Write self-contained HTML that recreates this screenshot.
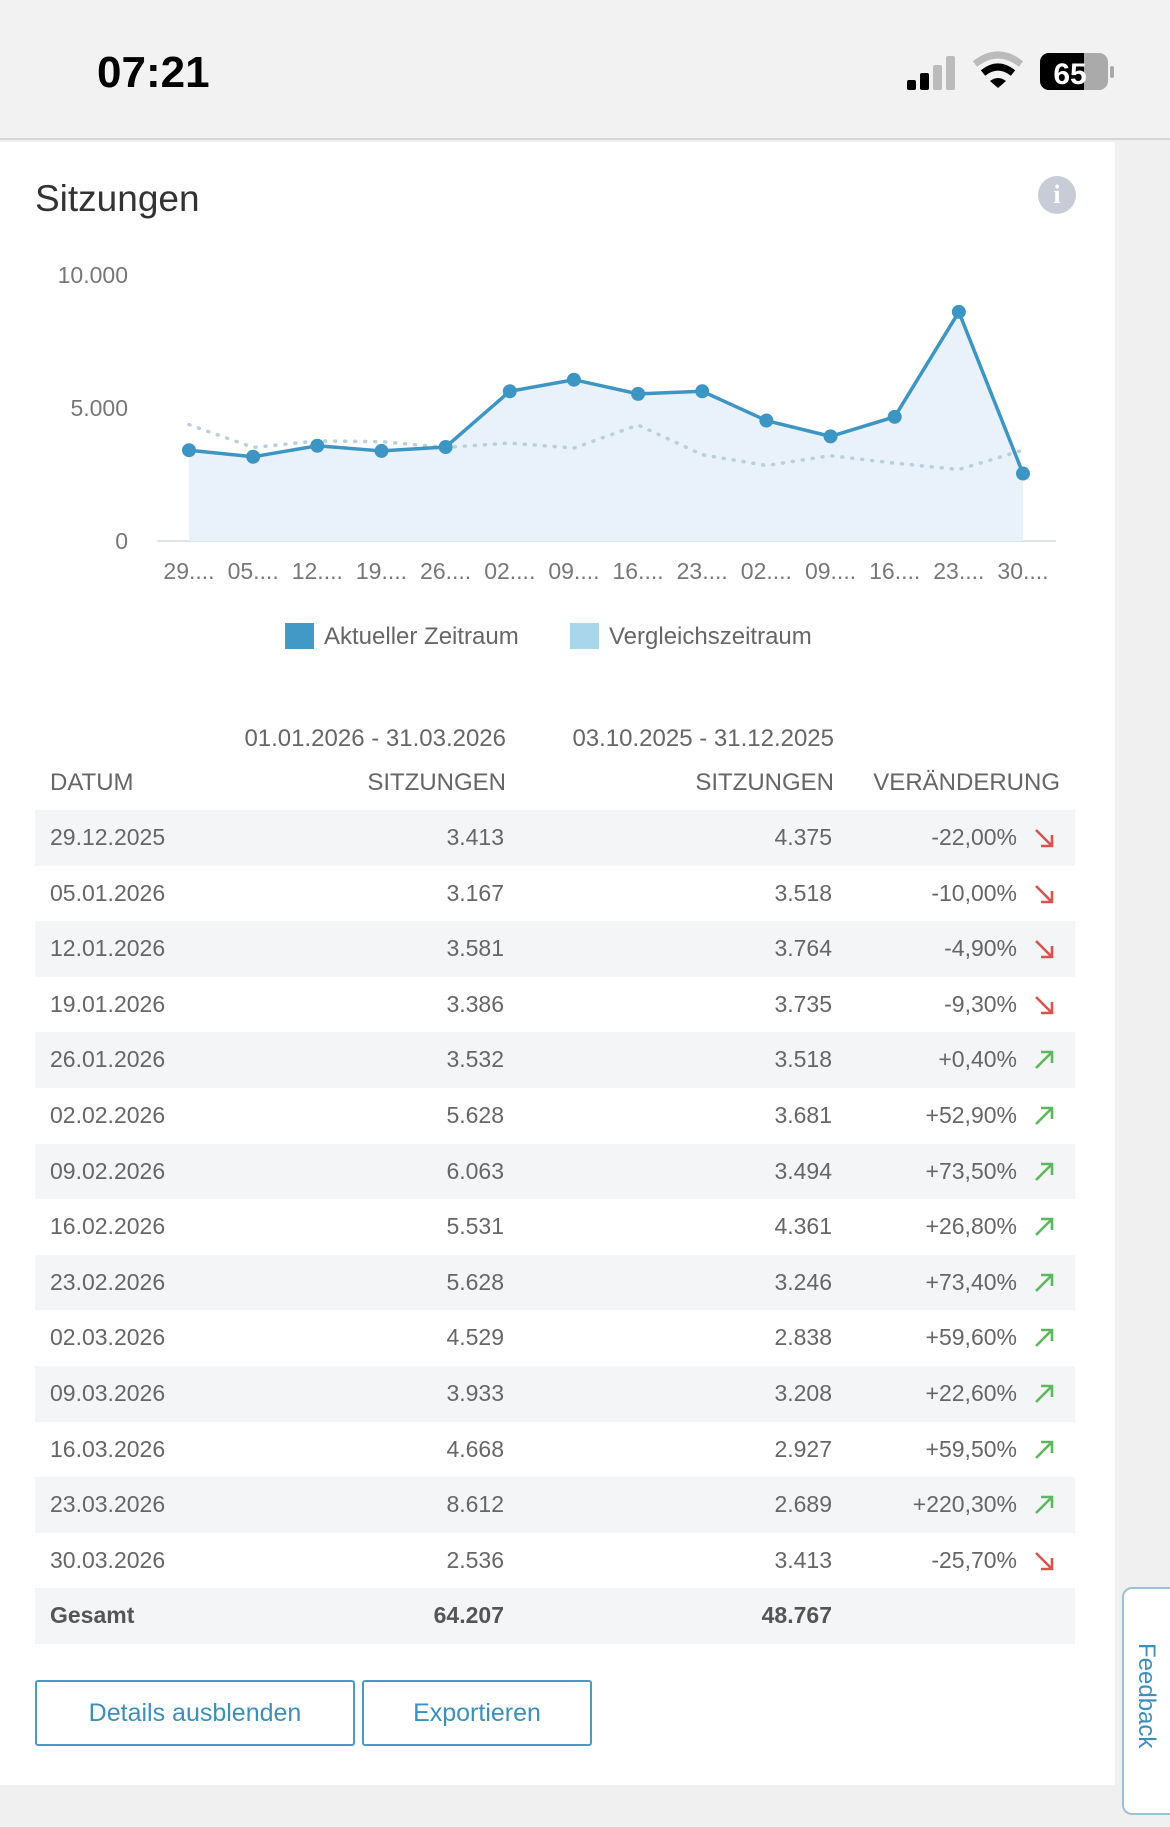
<!DOCTYPE html>
<html><head><meta charset="utf-8">
<style>
*{margin:0;padding:0;box-sizing:border-box}
body{width:1170px;height:1827px;background:#f0f0f0;font-family:"Liberation Sans",sans-serif;position:relative;overflow:hidden}
.abs{position:absolute}
#status{left:0;top:0;width:1170px;height:140px;background:#f2f2f2;border-bottom:2px solid #d6d6d6}
#card{left:0;top:142px;width:1115px;height:1643px;background:#fff}
#rightstrip{left:1115px;top:142px;width:55px;height:1685px;background:#f0f0f0}
.row{position:absolute;left:35px;width:1040px;height:55.6px;font-size:23px;color:#666;line-height:55.6px}
.row.g{background:#f4f5f7}
.c{position:absolute;white-space:nowrap}
.btn{position:absolute;border:2px solid #4a9ac2;border-radius:3px;color:#3b8fba;font-size:25px;text-align:center;background:#fff}
</style></head><body>
<div id="status" class="abs">
  <div class="abs" style="left:97px;top:48px;font-size:44px;font-weight:bold;color:#000">07:21</div>
  <svg class="abs" style="left:900px;top:48px" width="220" height="50">
    <rect x="7" y="32" width="9" height="10" rx="2" fill="#000"/>
    <rect x="20" y="25" width="9" height="17" rx="2" fill="#000"/>
    <rect x="33" y="17" width="9" height="25" rx="2" fill="#bbb"/>
    <rect x="46" y="8" width="9" height="34" rx="2" fill="#bbb"/>
    <path d="M75 16 Q98 -2 121 16" stroke="#bbb" stroke-width="7" fill="none"/>
    <path d="M83 25 Q98 13 113 25" stroke="#000" stroke-width="7" fill="none"/>
    <path d="M90 33 L98 40 L106 33 Q98 27 90 33Z" fill="#000"/>
    <rect x="140" y="5" width="68" height="37" rx="9" fill="#aaa"/>
    <path d="M149 5 H184 V42 H149 A9 9 0 0 1 140 33 V14 A9 9 0 0 1 149 5Z" fill="#000"/>
    <rect x="210" y="18" width="4" height="12" rx="2" fill="#aaa"/>
    <text x="170" y="36" text-anchor="middle" font-size="30" font-weight="bold" fill="#fff" font-family="Liberation Sans">65</text>
  </svg>
</div>
<div id="rightstrip" class="abs"></div>
<div id="card" class="abs">
  <div class="abs" style="left:35px;top:36px;font-size:37px;color:#333">Sitzungen</div>
  <div class="abs" style="left:1038px;top:34px;width:38px;height:38px;border-radius:50%;background:#c8ccd6;color:#fff;font-size:26px;font-weight:bold;text-align:center;line-height:38px;font-family:'Liberation Serif',serif">i</div>
</div>
<svg id="chart" class="abs" style="left:0;top:0" width="1170" height="700"></svg>

<div class="abs" style="left:0;top:620px;width:1115px;height:34px">
  <div class="abs" style="left:285px;top:3px;font-size:24px;color:#666;white-space:nowrap"><span style="display:inline-block;width:29px;height:26px;background:#4299c6;vertical-align:-5px;margin-right:10px"></span>Aktueller Zeitraum</div>
  <div class="abs" style="left:570px;top:3px;font-size:24px;color:#666;white-space:nowrap"><span style="display:inline-block;width:29px;height:26px;background:#a9d6ea;vertical-align:-5px;margin-right:10px"></span>Vergleichszeitraum</div>
</div>

<div id="table" class="abs" style="left:0;top:0;width:1170px;height:900px">
  <div class="c" style="right:664px;top:725px;font-size:24px;color:#666">01.01.2026 - 31.03.2026</div>
  <div class="c" style="right:336px;top:725px;font-size:24px;color:#666">03.10.2025 - 31.12.2025</div>
  <div class="c" style="left:50px;top:769px;font-size:24px;color:#666">DATUM</div>
  <div class="c" style="right:664px;top:769px;font-size:24px;color:#666">SITZUNGEN</div>
  <div class="c" style="right:336px;top:769px;font-size:24px;color:#666">SITZUNGEN</div>
  <div class="c" style="right:110px;top:769px;font-size:24px;color:#666">VERÄNDERUNG</div>
</div>
<div id="rows"></div>

<div class="btn" style="left:35px;top:1680px;width:320px;height:66px;line-height:62px">Details ausblenden</div>
<div class="btn" style="left:362px;top:1680px;width:230px;height:66px;line-height:62px">Exportieren</div>
<div class="abs" style="left:1122px;top:1587px;width:48px;height:228px;background:#fff;border:2px solid #9bbfd6;border-right:none;border-radius:10px 0 0 10px;overflow:hidden">
  <div class="abs" style="left:0;top:54px;transform-origin:0 0;transform:translate(36px,0) rotate(90deg);font-size:24px;color:#3b8fba;white-space:nowrap">Feedback</div>
</div>

<script>
const labels=["29....","05....","12....","19....","26....","02....","09....","16....","23....","02....","09....","16....","23....","30...."];
const dates=["29.12.2025","05.01.2026","12.01.2026","19.01.2026","26.01.2026","02.02.2026","09.02.2026","16.02.2026","23.02.2026","02.03.2026","09.03.2026","16.03.2026","23.03.2026","30.03.2026"];
const current=[3413,3167,3581,3386,3532,5628,6063,5531,5628,4529,3933,4668,8612,2536];
const comparison=[4375,3518,3764,3735,3518,3681,3494,4361,3246,2838,3208,2927,2689,3413];
const changes=["-22,00%","-10,00%","-4,90%","-9,30%","+0,40%","+52,90%","+73,50%","+26,80%","+73,40%","+59,60%","+22,60%","+59,50%","+220,30%","-25,70%"];
const yTicks=[0,5000,10000];
const yTickLabels=["0","5.000","10.000"];
const totals=["64.207","48.767"];

const NS="http://www.w3.org/2000/svg";
const svg=document.getElementById('chart');
function xPos(i){return 189+i*(1023-189)/(labels.length-1);}
function yPos(v){return 541-v*(541-275)/10000;}
function fmt(v){return String(v).replace(/\B(?=(\d{3})+(?!\d))/g,'.');}
function mk(tag,attrs){const e=document.createElementNS(NS,tag);for(const k in attrs)e.setAttribute(k,attrs[k]);svg.appendChild(e);return e;}

yTicks.forEach((t,i)=>{
  const e=mk('text',{x:128,y:yPos(t)+8,'text-anchor':'end','font-size':23,fill:'#777','font-family':'Liberation Sans'});
  e.textContent=yTickLabels[i];
  
  
});
const base=mk('line',{x1:157,x2:1056,y1:yPos(0),y2:yPos(0),stroke:'#e0e3e8','stroke-width':2});



let area='M'+xPos(0)+' '+yPos(0);
current.forEach((v,i)=>{area+=' L'+xPos(i)+' '+yPos(v);});
area+=' L'+xPos(current.length-1)+' '+yPos(0)+' Z';
const a=mk('path',{d:area,fill:'#e9f2fa'});



const cmp=mk('polyline',{points:comparison.map((v,i)=>xPos(i)+','+yPos(v)).join(' '),fill:'none',stroke:'#b9cfdc','stroke-width':3.5,'stroke-dasharray':'1 9','stroke-linecap':'round'});



const cur=mk('polyline',{points:current.map((v,i)=>xPos(i)+','+yPos(v)).join(' '),fill:'none',stroke:'#3d95c3','stroke-width':3.5});


current.forEach((v,i)=>{
  const c=mk('circle',{cx:xPos(i),cy:yPos(v),r:7,fill:'#3d95c3'});
  
  
});
labels.forEach((l,i)=>{
  const t=mk('text',{x:xPos(i),y:579,'text-anchor':'middle','font-size':23,fill:'#777','font-family':'Liberation Sans'});
  t.textContent=l;
  
  
});

const rows=document.getElementById('rows');
const top0=810,rh=55.6;
function addRow(i,cells,bold){
  const r=document.createElement('div');
  r.className='row'+(i%2===0?' g':'');
  r.style.top=(top0+i*rh)+'px';
  if(bold){r.style.fontWeight='bold';r.style.color='#555';}
  
  
  r.innerHTML='<span class="c" style="left:15px">'+cells[0]+'</span>'+
    '<span class="c" style="right:571px">'+cells[1]+'</span>'+
    '<span class="c" style="right:243px">'+cells[2]+'</span>'+
    '<span class="c" style="right:58px">'+cells[3]+'</span>'+cells[4];
  rows.appendChild(r);
}
dates.forEach((d,i)=>{
  const up=changes[i][0]==='+';
  const col=up?'#5cb85c':'#d9534f';
  const arrow='<svg class="c" style="right:18px;top:17px" width="24" height="22"><path d="'+(up?'M3 19 L19 3 M8 3 H19 V14':'M3 3 L19 19 M8 19 H19 V8')+'" stroke="'+col+'" stroke-width="2.6" fill="none"/></svg>';
  addRow(i,[d,fmt(current[i]),fmt(comparison[i]),changes[i],arrow],false);
});
addRow(dates.length,['Gesamt',totals[0],totals[1],'',''],true);
</script>
</body></html>
